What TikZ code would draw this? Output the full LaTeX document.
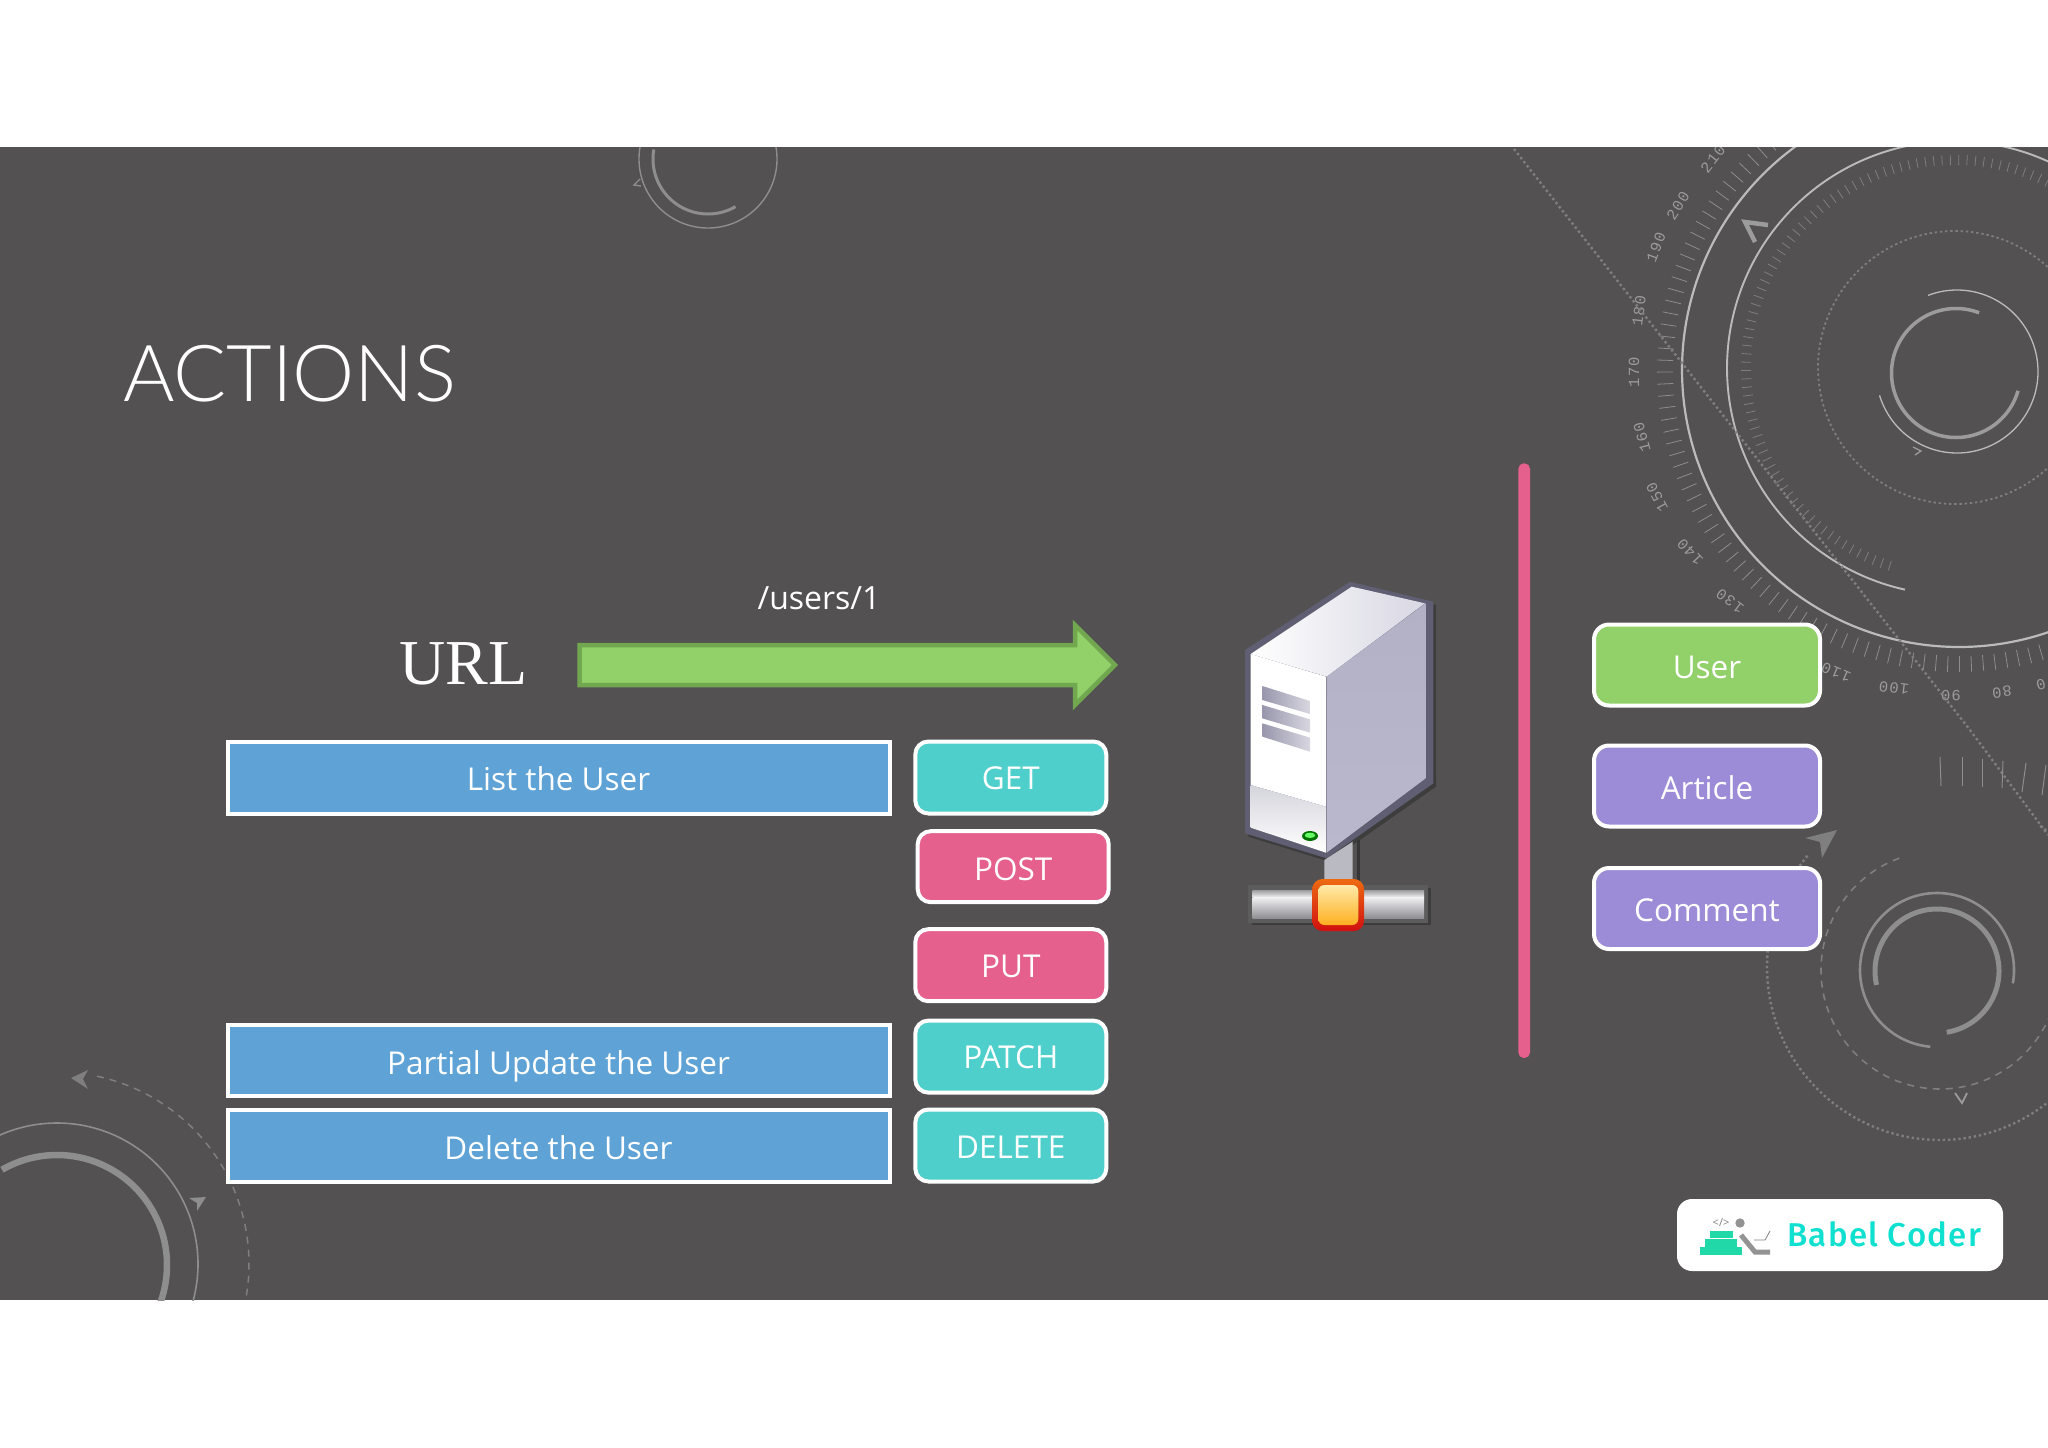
\documentclass[tikz,border=0pt]{standalone}
\usepackage{fontspec}
\setmainfont{Open Sans}
\newfontfamily\titlefont{Lato Light}
\newfontfamily\urlfont{Liberation Serif}
\newfontfamily\dialfont[LetterSpace=8]{Liberation Mono}
\newfontfamily\logofont[LetterSpace=4]{Fira Sans Medium}
\usetikzlibrary{shapes.geometric}
\definecolor{band}{HTML}{535151}
\definecolor{blueb}{HTML}{5FA3D6}
\definecolor{tealb}{HTML}{4ECFCB}
\definecolor{pinkb}{HTML}{E5608C}
\definecolor{greenb}{HTML}{92D06A}
\definecolor{greene}{HTML}{71A84F}
\definecolor{purpb}{HTML}{9C8BD6}
\definecolor{decA}{HTML}{BBBBBB}
\definecolor{decB}{HTML}{8E8E8E}
\definecolor{decC}{HTML}{7F7F7F}
\definecolor{decD}{HTML}{9C9C9C}
\definecolor{srvedge}{HTML}{5F5E72}
\definecolor{srvpipe}{HTML}{BABAC2}
\definecolor{srvbar}{HTML}{5C5C5C}
\definecolor{sideA}{HTML}{B3B1C6}
\definecolor{sideB}{HTML}{D2D1DF}
\definecolor{sideC}{HTML}{BAB8CC}
\definecolor{topB}{HTML}{D8D7E3}
\definecolor{frontB}{HTML}{D4D4DC}
\definecolor{ventA}{HTML}{9896AC}
\definecolor{ventB}{HTML}{D8D7E0}
\definecolor{barA}{HTML}{9C9CA0}
\definecolor{barB}{HTML}{F0F0F2}
\definecolor{barC}{HTML}{8E8E92}
\definecolor{knobA}{HTML}{EE6A10}
\definecolor{knobB}{HTML}{D01010}
\definecolor{coreA}{HTML}{FFE9A8}
\definecolor{coreB}{HTML}{FFB020}
\definecolor{logot}{HTML}{10E0D0}
\definecolor{stack}{HTML}{20D8A8}
\newcommand\parc[7]{\draw[#1] plot[domain=#6:#7,samples=240,variable=\t] ({#2+#4*cos(\t)},{#3+#5*sin(\t)});}
\tikzset{
 barebox/.style={draw=white,line width=4pt,text=white,inner sep=0pt,text height=23pt,text depth=0pt,font=\fontsize{31.5}{38}\selectfont},
 wideb/.style={barebox,fill=blueb,minimum width=662pt,minimum height=72pt},
 pill/.style={barebox,rounded corners=13pt,minimum width=191pt,minimum height=72pt},
 bigpill/.style={barebox,rounded corners=15pt,minimum width=226pt,minimum height=81pt,text height=27pt},
 dial/.style={text=decD,inner sep=0pt,font=\dialfont\fontsize{15.5}{18}\selectfont},
 dotline/.style={draw=decC,line width=2.4pt,dash pattern=on 2.4pt off 2.8pt},
 dashline/.style={draw=decC,line width=1.6pt,dash pattern=on 7pt off 6pt},
 vent/.style={draw=none,left color=ventA,right color=ventB},
}
\begin{document}
\begin{tikzpicture}[x=1pt,y=-1pt]
\useasboundingbox (0,0) rectangle (2048,1448);
\fill[white] (0,0) rectangle (2048,1448);
\fill[band] (0,147) rectangle (2048,1300);
\begin{scope}
\clip (0,147) rectangle (2048,1300);
% top-right dial
\parc{draw=decA,line width=2.2pt}{1959}{370}{277}{277}{-20}{300}
\parc{draw=decA,line width=1.9pt}{1954}{368}{227}{227}{102.5}{350}
\parc{dotline,line width=1.8pt}{1955}{367.5}{137}{136.5}{0}{360}
\parc{draw=decA,line width=1.3pt}{1957}{371.5}{81}{81.5}{249}{523}
\parc{draw=decD,line width=3.5pt}{1956}{373}{64.5}{64.5}{16}{291}
\foreach \a in {60,62.3,...,264}{
 \draw[decB,line width=.8pt] ({1959+286*cos(\a)},{370+286*sin(\a)}) -- ({1959+302*cos(\a)},{370+302*sin(\a)});
}
\foreach \a in {108,110.3,...,340}{
 \draw[decC,line width=.8pt] ({1954+203*cos(\a)},{368+203*sin(\a)}) -- ({1954+213*cos(\a)},{368+213*sin(\a)});
}
\foreach \lab/\px/\py/\r in {
 210/1713/159/52, 200/1678/206/58, 190/1656/247/69, 180/1639/311/83, 170/1634/372/90,
 160/1642/437/105, 150/1657/497/118, 140/1690/552/133, 130/1730/601/143,
 110/1836/672.5/157, 100/1894/688/173, 90/1951/696/180, 80/2002/692/187, 70/2046/683/195}{
 \node[dial,rotate=\r] (d\lab) at (\px,\py) {\lab};
}
\draw[decD,line width=4.5pt,line join=miter] (1768,225) -- (1745,222) -- (1755,242);
\draw[decD,line width=1.3pt] (1913,447) -- (1921,451) -- (1915,455);
% diagonal dotted line and lower circle
\draw[dotline] (1514,149) -- (1970,730) -- (2048,835);
\parc{dotline}{1940}{967}{173}{173}{220}{-55}
\fill[decC] (1805,838) -- (1837,830) -- (1822,858) -- (1820,842) -- cycle;
% bottom-right dial
\parc{dashline}{1940}{970}{119}{119}{250}{-25}
\parc{draw=decB,line width=2.6pt}{1937}{970}{77}{77}{10}{-265}
\parc{draw=decB,line width=5pt}{1937}{971}{62}{62}{167}{441}
\draw[decD,line width=1.8pt] (1955,1093) -- (1962,1103) -- (1967,1093);
\foreach \xa/\ya/\xb/\yb in {1940/757/1941/786,1962/757/1962/786,1982/759/1982/787,2003/761/2002/788,2026/763/2022/792,2046/765/2042/795}{
 \draw[decB,line width=1pt] (\xa,\ya) -- (\xb,\yb);
}
% top dial
\parc{draw=decB,line width=1.4pt}{708}{159}{69}{69}{-10}{190}
\parc{draw=decB,line width=3pt}{708}{159}{55}{55}{60}{190}
\draw[decB,line width=1.4pt] (640,179) -- (634,185) -- (641,186);
% bottom-left dial
\parc{draw=decB,line width=1.6pt}{57}{1264}{141}{141}{-120}{30}
\parc{draw=decB,line width=6.5pt}{57}{1265}{110}{110}{-120}{30}
\parc{draw=decC,line width=1.5pt,dash pattern=on 7pt off 6pt}{57}{1264}{192}{192}{-78}{12}
\fill[decC] (71,1078) -- (88,1070) -- (83,1079) -- (88,1089) -- cycle;
\fill[decB] (189,1198) -- (206,1197) -- (197,1211) -- (197,1203) -- cycle;
\end{scope}
% title
\node[anchor=base west,text=white,inner sep=0pt,font=\titlefont\fontsize{78.6}{90}\selectfont] (title) at (123,401) {ACTIONS};
\node[anchor=base,text=white,inner sep=0pt,font=\urlfont\fontsize{64}{76}\selectfont] (url) at (463.7,684.5) {URL};
\node[anchor=base,text=white,inner sep=0pt,font=\fontsize{32}{38}\selectfont] (path) at (819,609.5) {/users/1};
% arrow
\draw[fill=greenb,draw=greene,line width=4.5pt,line join=miter]
 (579.6,645) -- (1075,645) -- (1075,625) -- (1115,665) -- (1075,705) -- (1075,685) -- (579.6,685) -- cycle;
% boxes
\node[wideb,text height=25pt] (list) at (558.5,777.5) {List the User};
\node[wideb,minimum height=71pt,text height=27pt] (partial) at (558.5,1060.6) {Partial Update the User};
\node[wideb,text height=27pt] (delete) at (558.5,1145.5) {Delete the User};
\node[pill,fill=tealb] (get) at (1010.8,777.5) {GET};
\node[pill,fill=pinkb,minimum height=71pt,text height=27pt] (post) at (1013.2,866.7) {POST};
\node[pill,fill=pinkb,text height=24pt] (put) at (1010.8,965.2) {PUT};
\node[pill,fill=tealb] (patch) at (1010.8,1056.6) {PATCH};
\node[pill,fill=tealb,text height=26pt] (del) at (1010.8,1145.5) {DELETE};
\node[bigpill,fill=greenb] (user) at (1707,665) {User};
\node[bigpill,fill=purpb,text height=26pt] (article) at (1707,786) {Article};
\node[bigpill,fill=purpb,text height=25pt] (comment) at (1707,908.5) {Comment};
% pink bar
\fill[pinkb,rounded corners=5.5pt] (1518.3,463.3) rectangle (1530,1058);
% server
\begin{scope}[shift={(1180,560)},x=.33333pt,y=-.33333pt]
\fill[black!25!band] (205,285) -- (520,75) -- (768,135) -- (768,680) -- (447,905) -- (205,830) -- cycle;
\fill[black!35!band] (530,840) rectangle (540,965);
\fill[black!25!band] (215,985) rectangle (752,1096);
\fill[srvedge] (510,65) -- (760,125) -- (760,670) -- (440,895) -- (195,820) -- (195,270) -- cycle;
\shade[left color=white,right color=topB] (515,80) -- (735,130) -- (440,350) -- (212,282) -- cycle;
\fill[white] (212,282) -- (438,350) -- (438,740) -- (212,675) -- cycle;
\shade[top color=frontB,bottom color=white] (212,675) -- (438,740) -- (438,878) -- (212,803) -- cycle;
\shade[top color=sideA,middle color=sideB,bottom color=sideC] (440,350) -- (737,130) -- (737,655) -- (440,878) -- cycle;
\shade[vent] (247,378) -- (390,423) -- (390,462) -- (247,420) -- cycle;
\shade[vent] (247,435) -- (390,478) -- (390,518) -- (247,475) -- cycle;
\shade[vent] (247,490) -- (390,533) -- (390,575) -- (247,530) -- cycle;
\fill[green!45!black] (390,828) ellipse (24 and 15);
\fill[green!60!white] (390,826) ellipse (16 and 8);
\fill[srvpipe] (433,900) -- (518,845) -- (518,975) -- (433,975) -- cycle;
\fill[srvbar] (205,975) rectangle (745,1090);
\shade[top color=barA,bottom color=barB] (218,990) rectangle (732,1012);
\shade[top color=barB,bottom color=barC] (218,1012) rectangle (732,1075);
\shade[top color=knobA,bottom color=knobB,rounded corners=10pt] (397,957) rectangle (552,1113);
\shade[top color=coreA,bottom color=coreB,rounded corners=6pt] (415,975) rectangle (535,1095);
\end{scope}
% logo
\fill[white,rounded corners=15pt] (1677,1199) rectangle (2003,1271);
\fill[stack] (1700,1247) rectangle (1742,1255);
\fill[stack] (1705,1239) rectangle (1737,1247);
\fill[stack] (1710,1231) rectangle (1733,1238);
\node[text=gray,inner sep=0pt,font=\fontsize{11}{13}\selectfont] (code) at (1721,1223) {</>};
\fill[gray!85] (1740,1223) circle (4.7);
\draw[gray!85,line width=5pt,line join=miter] (1741,1235) -- (1755,1252) -- (1770,1252);
\draw[gray,line width=.8pt] (1754,1240) -- (1765,1240) -- (1770,1231);
\node[anchor=base west,text=logot,inner sep=0pt,font=\logofont\fontsize{33}{40}\selectfont] (logo) at (1787,1246.5) {Babel Coder};
\end{tikzpicture}
\end{document}
